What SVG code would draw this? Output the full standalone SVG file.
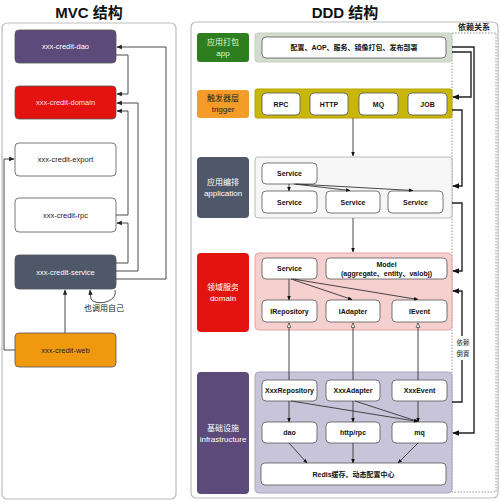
<svg xmlns="http://www.w3.org/2000/svg" width="500" height="502" viewBox="0 0 500 502">
<style>
text{font-family:"Liberation Sans","Noto Sans CJK SC",sans-serif;text-anchor:middle;dominant-baseline:central}
.title{font-size:15px;font-weight:bold;fill:#111}
.panel{fill:#fff;stroke:#bbb;stroke-width:1.2}
.mvc{stroke:#555;stroke-width:0.8}
.mt{font-size:7.5px}
.w{fill:#fff}
.box{fill:#fff;stroke:#555;stroke-width:0.8}
.bt{font-size:7px;font-weight:bold;fill:#111}
.lt{font-size:8px}
.c{fill:none;stroke:#333;stroke-width:0.9}
.ck{fill:none;stroke:#222;stroke-width:1.4}
</style>
<defs>
<marker id="a" viewBox="0 0 10 10" refX="9" refY="5" markerWidth="6" markerHeight="6" orient="auto"><path d="M0,1L10,5L0,9z" fill="#222"/></marker>
<marker id="ab" viewBox="0 0 10 10" refX="9" refY="5" markerWidth="5" markerHeight="5" orient="auto"><path d="M0,1L10,5L0,9z" fill="#111"/></marker>
<marker id="h" viewBox="0 0 10 10" refX="9" refY="5" markerWidth="6" markerHeight="6" orient="auto"><path d="M1,1.5L9,5L1,8.5z" fill="#fff" stroke="#333" stroke-width="1.2"/></marker>
</defs>
<rect width="500" height="502" fill="#fff"/>
<text class="title" x="89" y="12">MVC 结构</text>
<text class="title" x="345" y="12">DDD 结构</text>
<rect class="panel" x="2" y="23" width="174" height="476" rx="5"/>
<rect class="panel" x="191" y="22" width="307" height="476" rx="5"/>
<rect x="452" y="33" width="44" height="459" fill="none" stroke="#888" stroke-width="0.9" stroke-dasharray="1.5,1.5"/>
<text x="474" y="27" style="font-size:8px;font-weight:bold;fill:#222">依赖关系</text>

<g id="mvc-dao"><rect class="mvc" x="15" y="30" width="101" height="33" rx="4" fill="#5b4a7a"/><text class="mt" x="65.5" y="46.5" fill="#fff">xxx-credit-dao</text></g>
<g id="mvc-domain"><rect class="mvc" x="15" y="86" width="101" height="33" rx="4" fill="#e3140f" stroke="#e88"/><text class="mt" x="65.5" y="102.5" fill="#fde">xxx-credit-domain</text></g>
<g id="mvc-export"><rect class="mvc" x="15" y="143" width="101" height="33" rx="4" fill="#fff"/><text class="mt" x="65.5" y="159.5" fill="#222">xxx-credit-export</text></g>
<g id="mvc-rpc"><rect class="mvc" x="15" y="198" width="101" height="34" rx="4" fill="#fff"/><text class="mt" x="65.5" y="215" fill="#222">xxx-credit-rpc</text></g>
<g id="mvc-service"><rect class="mvc" x="15" y="255" width="101" height="34" rx="4" fill="#4e5868"/><text class="mt" x="65.5" y="272" fill="#fff">xxx-credit-service</text></g>
<g id="mvc-web"><rect class="mvc" x="15" y="333" width="101" height="34" rx="4" fill="#f0990e" stroke="#e0a040"/><text class="mt" x="65.5" y="350" fill="#222">xxx-credit-web</text></g>

<g id="app-label"><rect x="197" y="33" width="52" height="29" rx="3" fill="#2e7d1e"/><text class="lt" x="223" y="42" fill="#dfd">应用打包</text><text class="lt" x="223" y="53" fill="#dfd">app</text></g>
<g id="trigger-label"><rect x="197" y="90" width="52" height="28" rx="3" fill="#f39c2a"/><text class="lt" x="223" y="98.5" fill="#222">触发器层</text><text class="lt" x="223" y="109.5" fill="#222">trigger</text></g>
<g id="application-label"><rect x="197" y="157" width="52" height="61" rx="4" fill="#4e5868"/><text class="lt" x="223" y="182" fill="#fff">应用编排</text><text class="lt" x="223" y="193" fill="#fff">application</text></g>
<g id="domain-label"><rect x="197" y="253" width="52" height="79" rx="4" fill="#e3140f"/><text class="lt" x="223" y="287" fill="#fff">领域服务</text><text class="lt" x="223" y="298" fill="#fff">domain</text></g>
<g id="infra-label"><rect x="197" y="372" width="52" height="122" rx="4" fill="#5b4a7a"/><text class="lt" x="223" y="428" fill="#fff">基础设施</text><text class="lt" x="223" y="439" fill="#fff">infrastructure</text></g>

<g id="app-layer"><rect x="255" y="33" width="197" height="29" rx="3" fill="#d3dccd" stroke="#c5d0c0"/><rect class="box" x="262" y="37" width="184" height="21" rx="4"/><text class="bt" x="354" y="47.5">配置、AOP、服务、镜像打包、发布部署</text></g>
<g id="trigger-layer"><rect x="255" y="89" width="197" height="29" rx="2" fill="#c8b60a" stroke="#b8a600"/>
<rect class="box" x="262" y="93" width="38" height="22" rx="4"/><text class="bt" x="281" y="104">RPC</text>
<rect class="box" x="310" y="93" width="38" height="22" rx="4"/><text class="bt" x="329" y="104">HTTP</text>
<rect class="box" x="359" y="93" width="39" height="22" rx="4"/><text class="bt" x="378.5" y="104">MQ</text>
<rect class="box" x="408" y="93" width="39" height="22" rx="4"/><text class="bt" x="427.5" y="104">JOB</text></g>
<g id="application-layer"><rect x="255" y="157" width="197" height="61" rx="3" fill="#f6f6f6" stroke="#aaa" stroke-width="0.8"/>
<rect class="box" x="262" y="163" width="55" height="21" rx="4"/><text class="bt" x="289.5" y="173.5">Service</text>
<rect class="box" x="262" y="191" width="55" height="22" rx="4"/><text class="bt" x="289.5" y="202">Service</text>
<rect class="box" x="326" y="191" width="54" height="22" rx="4"/><text class="bt" x="353" y="202">Service</text>
<rect class="box" x="388" y="191" width="55" height="22" rx="4"/><text class="bt" x="415.5" y="202">Service</text></g>
<g id="domain-layer"><rect x="255" y="253" width="197" height="77" rx="4" fill="#f6cfcf" stroke="#e7a3a3"/>
<rect class="box" x="262" y="258" width="55" height="21" rx="4"/><text class="bt" x="289.5" y="268.5">Service</text>
<rect class="box" x="326" y="258" width="121" height="21" rx="4"/><text class="bt" x="386.5" y="264">Model</text><text class="bt" x="386.5" y="273.5">(aggregate、entity、valobj)</text>
<rect class="box" x="262" y="300" width="55" height="22" rx="4" fill="#f7f7f4"/><text class="bt" x="289.5" y="311">IRepository</text>
<rect class="box" x="326" y="300" width="54" height="22" rx="4" fill="#f7f7f4"/><text class="bt" x="353" y="311">IAdapter</text>
<rect class="box" x="392" y="300" width="55" height="22" rx="4" fill="#f7f7f4"/><text class="bt" x="419.5" y="311">IEvent</text></g>
<g id="infra-layer"><rect x="255" y="372" width="197" height="121" rx="4" fill="#c8c5db" stroke="#a9a6bf"/>
<rect class="box" x="262" y="380" width="55" height="21" rx="4" fill="#f7f7f7" stroke="#999"/><text class="bt" x="289.5" y="390.5">XxxRepository</text>
<rect class="box" x="326" y="380" width="54" height="21" rx="4" fill="#f7f7f7" stroke="#999"/><text class="bt" x="353" y="390.5">XxxAdapter</text>
<rect class="box" x="392" y="380" width="55" height="21" rx="4" fill="#f7f7f7" stroke="#999"/><text class="bt" x="419.5" y="390.5">XxxEvent</text>
<rect class="box" x="262" y="422" width="55" height="21" rx="4" fill="#f7f7f7" stroke="#999"/><text class="bt" x="289.5" y="432.5">dao</text>
<rect class="box" x="326" y="422" width="54" height="21" rx="4" fill="#f7f7f7" stroke="#999"/><text class="bt" x="353" y="432.5">http/rpc</text>
<rect class="box" x="392" y="422" width="55" height="21" rx="4" fill="#f7f7f7" stroke="#999"/><text class="bt" x="419.5" y="432.5">mq</text>
<rect class="box" x="261" y="463" width="185" height="22" rx="4" fill="#f7f7f7" stroke="#999"/><text class="bt" x="353.5" y="474">Redis缓存、动态配置中心</text></g>

<g id="connectors">
<!-- MVC -->
<path class="c" d="M116,55H128V94H117" marker-end="url(#a)"/>
<path class="c" d="M116,279H166V47H117" marker-end="url(#a)"/>
<path class="c" d="M116,271H138V103H117" marker-end="url(#a)"/>
<path class="c" d="M116,215H128V111H117" marker-end="url(#a)"/>
<path class="c" d="M116,263H128V223H117" marker-end="url(#a)"/>
<path class="c" d="M15,350H4V159H14" marker-end="url(#a)"/>
<path class="c" d="M65,333V290" marker-end="url(#a)"/>
<path class="c" d="M115,290C118,303 95,306 91,299L90,290" marker-end="url(#a)"/>
<text x="104" y="308" style="font-size:8px;fill:#222">也调用自己</text>
<!-- DDD internal -->
<path class="c" d="M353,118V156" marker-end="url(#ab)"/>
<path class="c" d="M353,218V252" marker-end="url(#ab)"/>
<path class="c" d="M289,184V191" marker-end="url(#ab)"/>
<path class="c" d="M294,184L350,190.5" marker-end="url(#ab)"/>
<path class="c" d="M296,184L413,190.5" marker-end="url(#ab)"/>
<path class="c" d="M289,279V300" marker-end="url(#ab)"/>
<path class="c" d="M291,279L352,299.5" marker-end="url(#ab)"/>
<path class="c" d="M293,279L418,299.5" marker-end="url(#ab)"/>
<path class="c" d="M289,380V323" marker-end="url(#h)"/>
<path class="c" d="M353,380V323" marker-end="url(#h)"/>
<path class="c" d="M418,380V323" marker-end="url(#h)"/>
<path class="c" d="M289,401V422" marker-end="url(#ab)"/>
<path class="c" d="M291,401L418,421.5" marker-end="url(#ab)"/>
<path class="c" d="M353,401V422" marker-end="url(#ab)"/>
<path class="c" d="M355,401L418,421.5" marker-end="url(#ab)"/>
<path class="c" d="M418,401V422" marker-end="url(#ab)"/>
<path class="c" d="M289,443L307,463" marker-end="url(#ab)"/>
<path class="c" d="M353,443V463" marker-end="url(#ab)"/>
<path class="c" d="M418,443L398,463" marker-end="url(#ab)"/>
<!-- dependency lines -->
<path class="ck" d="M452,52H471V97H453" marker-end="url(#ab)"/>
<path class="ck" d="M452,47H474V433H453" marker-end="url(#ab)"/>
<path class="ck" d="M452,110H462V186H453" marker-end="url(#ab)"/>
<path class="ck" d="M452,203H462V271H453" marker-end="url(#ab)"/>
<path class="ck" d="M452,402H462V291H453" marker-end="url(#ab)"/>
<rect x="456" y="336" width="14" height="24" fill="#fff"/>
<text x="463" y="342" style="font-size:6.5px;fill:#222">依赖</text>
<text x="463" y="353" style="font-size:6.5px;fill:#222">倒置</text>
</g>
</svg>
